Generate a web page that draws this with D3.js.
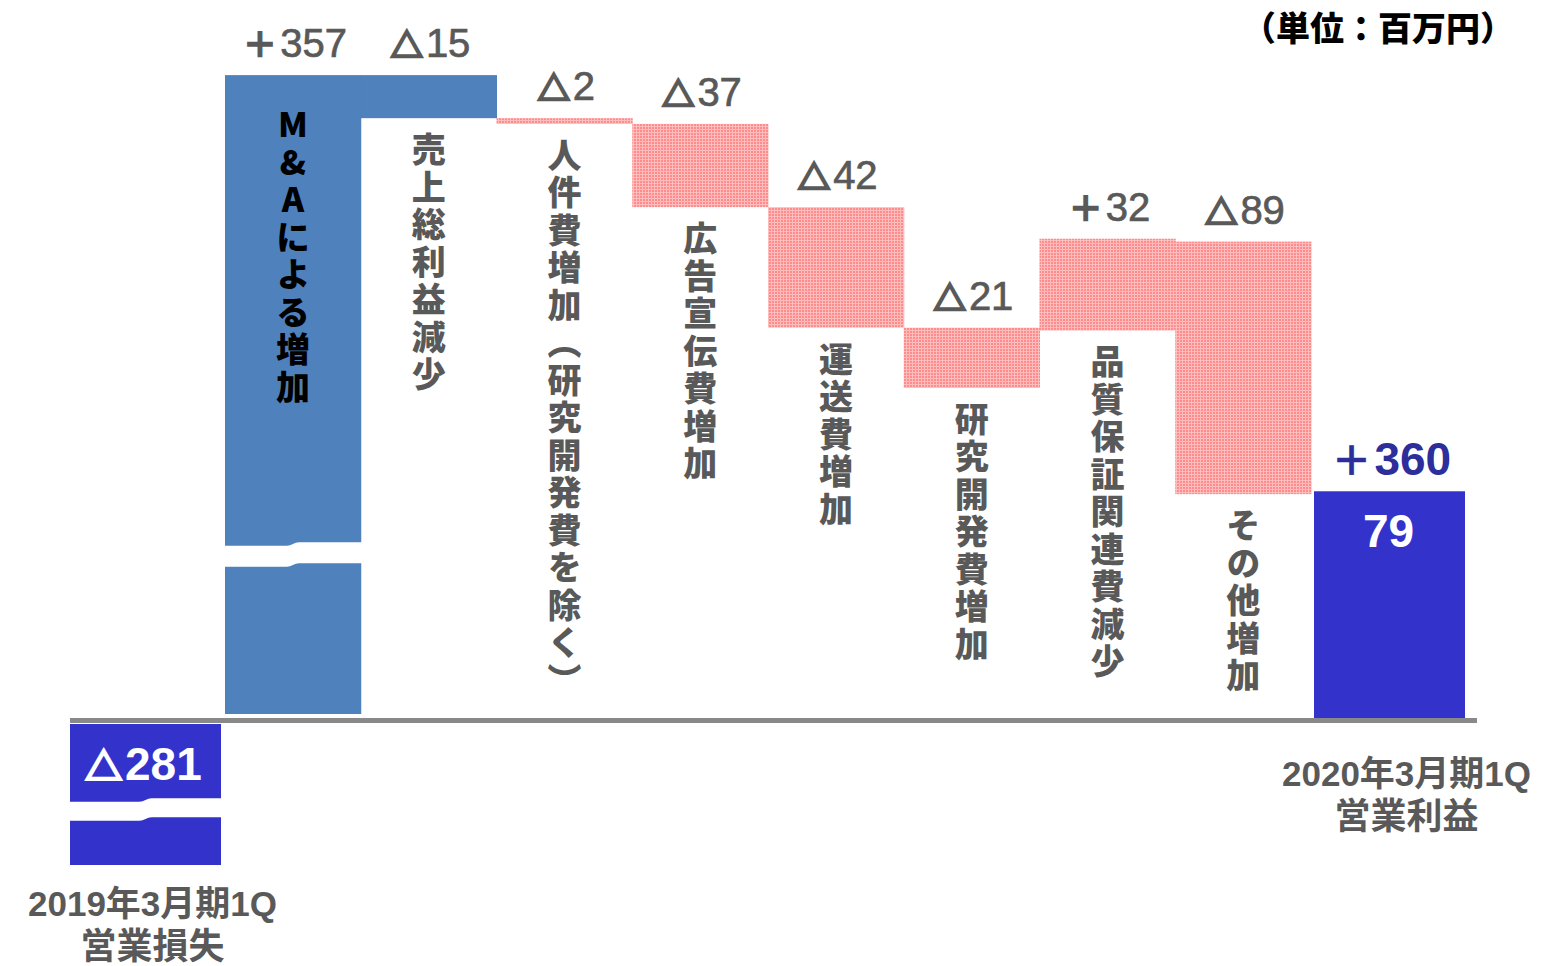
<!DOCTYPE html>
<html>
<head>
<meta charset="utf-8">
<script src="https://cdn.jsdelivr.net/npm/d3@7"></script>
<style>
  body { margin: 0; background: #fff; }
  svg { display: block; }
</style>
</head>
<body>
<div class="chart"></div>
<script>
/*
----------------------------------------------------------
                   data (百万円)
----------------------------------------------------------
*/
var startName  = ["2019年3月期1Q", "営業損失"];
var startValue = -281;
var startLabel = "△281";

var endName  = ["2020年3月期1Q", "営業利益"];
var endValue = 79;
var endLabel = "79";
var changeLabel = "＋360";

var stepNames  = ["M&Aによる増加", "売上総利益減少", "人件費増加（研究開発費を除く）",
                  "広告宣伝費増加", "運送費増加", "研究開発費増加", "品質保証関連費減少", "その他増加"];
var stepLabels = ["＋357", "△15", "△2", "△37", "△42", "△21", "＋32", "△89"];
// levels as drawn on the (broken) axis
var stepFrom   = [0, 224, 209, 207, 178, 136, 135, 166];
var stepTo     = [224, 209, 207, 178, 136, 115, 167, 78];

var unitLabel = "（単位：百万円）";

/*
----------------------------------------------------------
                   setup
----------------------------------------------------------
*/
var width = 1554, height = 966;
var sans = "'Liberation Sans', 'Noto Sans CJK JP', sans-serif";
var cjk  = "'Noto Sans CJK JP', sans-serif";
var grey = "#595959";

var svg = d3.select(".chart").append("svg")
    .attr("width", width)
    .attr("height", height);

var defs = svg.append("defs");
var pat = defs.append("pattern")
    .attr("id", "pink")
    .attr("patternUnits", "userSpaceOnUse")
    .attr("width", 3).attr("height", 3);
pat.append("rect").attr("width", 3).attr("height", 3).attr("fill", "#ff8c8c");
pat.append("rect").attr("width", 3).attr("height", 1).attr("fill", "#ffbcbc");
pat.append("rect").attr("width", 1).attr("height", 3).attr("fill", "#ffbcbc");

// broken axis: the loss is squeezed below the baseline
var y = d3.scaleLinear()
    .domain([startValue, 0, 250])
    .range([865, 718, 0.5]);

var x = d3.scaleBand()
    .domain(stepNames)
    .range([225, 1311])
    .padding(0);

var totalW = 151, gap = 4;
var xStart = x(stepNames[0]) - gap - totalW;
var xEnd = x(stepNames[stepNames.length - 1]) + x.bandwidth() + 3;

var steps = stepNames.map(function(d, i) {
    return { name: d, label: stepLabels[i], from: stepFrom[i], to: stepTo[i], i: i };
});

function fillOf(d) {
    return d.i < 2 ? "#4f81bd" : "url(#pink)";
}

/*
----------------------------------------------------------
                   bars
----------------------------------------------------------
*/
var gBars = svg.append("g");

gBars.selectAll(".step").data(steps).enter()
    .append("rect")
        .attr("class", "step")
        .attr("x", function(d) { return x(d.name); })
        .attr("width", x.bandwidth() + 0.5)
        .attr("y", function(d) { return y(Math.max(d.from, d.to)); })
        .attr("height", function(d) { return Math.abs(y(d.from) - y(d.to)); })
        .attr("fill", fillOf);

// M&A bar stops a little above the axis line
gBars.select(".step").attr("height", function(d) { return y(0) - y(d.to) - 4; });

gBars.append("rect")
    .attr("x", xStart).attr("width", totalW)
    .attr("y", y(0) + 6).attr("height", y(startValue) - y(0) - 6)
    .attr("fill", "#3333cc");

gBars.append("rect")
    .attr("x", xEnd).attr("width", totalW)
    .attr("y", y(endValue)).attr("height", y(0) - y(endValue))
    .attr("fill", "#3333cc");

// axis break bands
function breakPath(x0, w, yTop, thick) {
    var m = x0 + w / 2;
    var p = d3.path();
    p.moveTo(x0 - 2, yTop);
    p.lineTo(m - 6, yTop);
    p.bezierCurveTo(m - 2, yTop, m + 2, yTop - 3.5, m + 6, yTop - 3.5);
    p.lineTo(x0 + w + 2, yTop - 3.5);
    p.lineTo(x0 + w + 2, yTop - 3.5 + thick);
    p.lineTo(m + 6, yTop - 3.5 + thick);
    p.bezierCurveTo(m + 2, yTop - 3.5 + thick, m - 2, yTop + thick, m - 6, yTop + thick);
    p.lineTo(x0 - 2, yTop + thick);
    p.closePath();
    return p.toString();
}
gBars.append("path")
    .attr("d", breakPath(x(stepNames[0]), x.bandwidth(), y(60), 21))
    .attr("fill", "#fff");
gBars.append("path")
    .attr("d", breakPath(xStart, totalW, y(-160), 19))
    .attr("fill", "#fff");

// axis line
svg.append("line")
    .attr("x1", xStart).attr("x2", xEnd + totalW + 12)
    .attr("y1", y(0) + 2.5).attr("y2", y(0) + 2.5)
    .attr("stroke", "#898989")
    .attr("stroke-width", 5);

/*
----------------------------------------------------------
                   texts
----------------------------------------------------------
*/
var gText = svg.append("g");

// value labels: symbol (△ / ＋) from the CJK font, digits from sans
function valueText(sel, size, weight, color, thick) {
    sel.attr("text-anchor", "middle")
        .attr("font-family", sans)
        .attr("font-weight", weight)
        .attr("font-size", size)
        .attr("fill", color)
        .attr("stroke", color)
        .attr("stroke-width", thick);
    sel.each(function(d) {
        var t = d3.select(this);
        var s = t.attr("data-label");
        var sym = s.charAt(0);
        t.append("tspan")
            .attr("font-family", cjk)
            .attr("font-weight", 700)
            .attr("font-size", size * (sym == "△" ? 0.8 : 0.86))
            .attr("stroke-width", sym == "△" ? 2.6 : thick + 0.6)
            .attr("dx", -2)
            .text(sym);
        t.append("tspan")
            .attr("dx", 3)
            .text(s.slice(1));
    });
}

var vals = gText.selectAll(".val").data(steps).enter()
    .append("text")
        .attr("class", "val")
        .attr("x", function(d) { return x(d.name) + x.bandwidth() / 2 + 4; })
        .attr("y", function(d) { return y(Math.max(d.from, d.to)) - 18; })
        .attr("data-label", function(d) { return d.label; });
valueText(vals, 40, 400, grey, 0.7);

gText.selectAll(".name").data(steps).enter()
    .append("text")
        .attr("class", "name")
        .attr("x", function(d) { return x(d.name) + x.bandwidth() / 2; })
        .attr("y", function(d) {
            return d.i == 0 ? y(d.to) + 32 : y(Math.min(d.from, d.to)) + 14;
        })
        .attr("font-family", cjk)
        .attr("font-weight", 900)
        .attr("font-size", 34)
        .attr("letter-spacing", 3.5)
        .attr("fill", function(d) { return d.i == 0 ? "#000" : grey; })
        .style("writing-mode", "vertical-rl")
        .style("text-orientation", "upright")
        .text(function(d) { return d.name; });

var t281 = gText.append("text")
    .attr("x", xStart + totalW / 2)
    .attr("y", y(0) + 62)
    .attr("data-label", startLabel);
valueText(t281, 46, 700, "#fff", 0);

gText.append("text")
    .attr("x", xEnd + totalW / 2 - 1)
    .attr("y", y(endValue) + 56)
    .attr("text-anchor", "middle")
    .attr("font-family", sans)
    .attr("font-weight", 700)
    .attr("font-size", 46)
    .attr("fill", "#fff")
    .text(endLabel);

var t360 = gText.append("text")
    .attr("x", xEnd + totalW / 2 + 4)
    .attr("y", y(endValue) - 16)
    .attr("data-label", changeLabel);
valueText(t360, 46, 700, "#2b2e9b", 0);

function category(lines, cx, top) {
    gText.selectAll(null).data(lines).enter()
        .append("text")
            .attr("x", cx)
            .attr("y", function(d, i) { return top + i * 43; })
            .attr("text-anchor", "middle")
            .attr("font-family", sans)
            .attr("font-weight", 700)
            .attr("font-size", function(d, i) { return i == 0 ? 35 : 36; })
            .attr("fill", grey)
            .text(function(d) { return d; });
}
category(startName, xStart + totalW / 2 + 7, y(startValue) + 51);
category(endName, xEnd + totalW / 2 + 17, y(0) + 68);

gText.append("text")
    .attr("x", 1514)
    .attr("y", 41)
    .attr("text-anchor", "end")
    .attr("font-family", cjk)
    .attr("font-weight", 900)
    .attr("font-size", 34)
    .attr("fill", "#000")
    .text(unitLabel);
</script>
</body>
</html>
